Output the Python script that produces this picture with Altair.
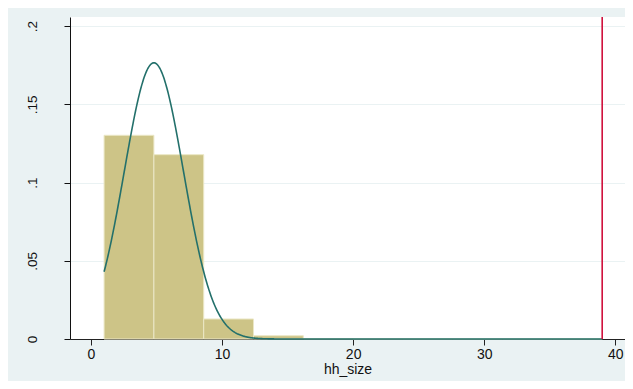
import altair as alt
import pandas as pd

# Histogram of hh_size (density), 10 bins from 1 to 39
bin_start = [1.0, 4.8, 8.6, 12.4, 16.2, 20.0, 23.8, 27.6, 31.4, 35.2]
bin_end = [4.8, 8.6, 12.4, 16.2, 20.0, 23.8, 27.6, 31.4, 35.2, 39.0]
density = [0.1302, 0.1178, 0.0128, 0.0021, 0.0002, 0.00005, 0.00002, 0.00001, 0.00001, 0.00002]

# Normal density overlay parameters (peak / shape)
norm_mean = 4.8
norm_sd = 2.26
data_min = 1
data_max = 39

# Vertical reference line
ref_x = [39]

x_ticks = [0, 10, 20, 30, 40]
y_ticks = [0, 0.05, 0.1, 0.15, 0.2]

FONT = "Liberation Sans"

hist_df = pd.DataFrame({"start": bin_start, "end": bin_end, "density": density})
ref_df = pd.DataFrame({"x": ref_x})

x_scale = alt.Scale(domain=[-1.6, 40.74], nice=False, zero=False)
y_scale = alt.Scale(domain=[0, 0.2058], nice=False)

x_axis = alt.Axis(
    values=x_ticks, title="hh_size", grid=False, tickSize=6, labelPadding=2,
    titlePadding=1, labelFontSize=14, titleFontSize=14, titleFontWeight="normal",
    labelFont=FONT, titleFont=FONT, labelColor="#111", titleColor="#111",
    domainColor="#222", tickColor="#222", labelFlush=False,
)
y_axis = alt.Axis(
    values=y_ticks, title=None, grid=True, gridColor="#eaf2f3", tickSize=6,
    labelAngle=270, labelAlign="center", labelBaseline="bottom", labelPadding=25,
    labelFontSize=13.5, labelFont=FONT, labelColor="#111", domainColor="#111",
    tickColor="#111",
    labelExpr="datum.value == 0 ? '0' : substring(format(datum.value, '.2~f'), 1)",
)

bars = alt.Chart(hist_df).mark_rect(
    color="#cdc487", stroke="#ebe7c6", strokeWidth=1
).encode(
    x=alt.X("start:Q", scale=x_scale, axis=x_axis),
    x2="end:Q",
    y=alt.Y("density:Q", scale=y_scale, axis=y_axis),
    y2=alt.datum(0),
)

curve = alt.Chart(
    alt.SequenceGenerator(sequence=alt.SequenceParams(start=data_min, stop=data_max + 0.001, step=0.05, **{"as": "x"}))
).transform_calculate(
    y=f"exp(-0.5*pow((datum.x-{norm_mean})/{norm_sd},2))/({norm_sd}*sqrt(2*PI))"
).mark_line(color="#23706b", strokeWidth=1.6).encode(
    x=alt.X("x:Q", scale=x_scale),
    y=alt.Y("y:Q", scale=y_scale),
)

rule = alt.Chart(ref_df).mark_rule(color="#d0103c", strokeWidth=1.6).encode(
    x=alt.X("x:Q", scale=x_scale),
)

chart = alt.layer(bars, curve, rule).properties(
    width=555,
    height=322,
    padding={"left": 62, "top": 9, "right": 0, "bottom": 42},
    autosize=alt.AutoSizeParams(type="none"),
).configure(background="#eaf2f3").configure_view(fill="white", stroke=None)

chart.save("out.html", embed_options={"renderer": "svg", "actions": False})
